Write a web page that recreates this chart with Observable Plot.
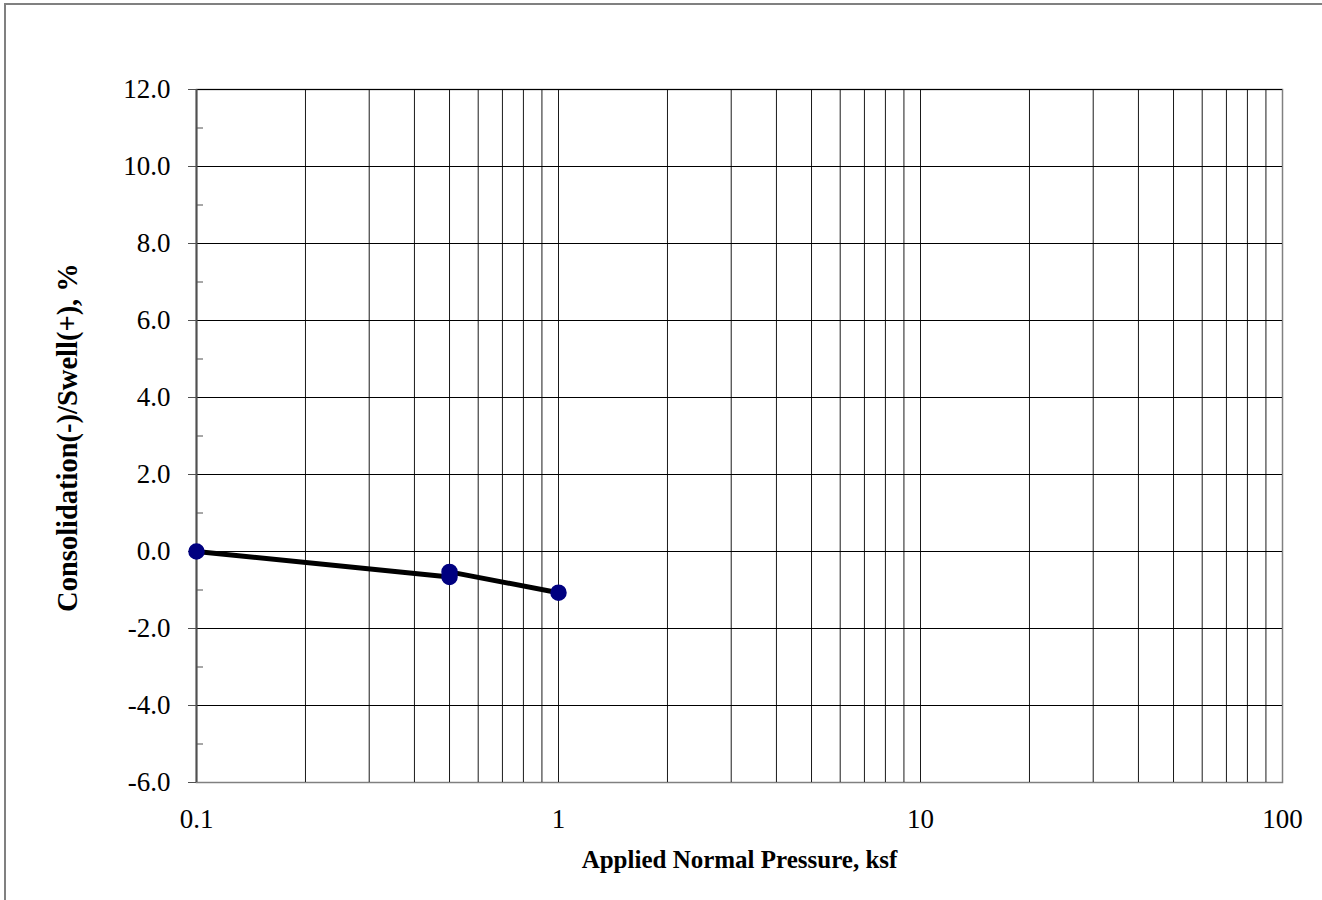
<!DOCTYPE html>
<html>
<head>
<meta charset="utf-8">
<script src="https://cdn.jsdelivr.net/npm/d3@7"></script>
<script src="https://cdn.jsdelivr.net/npm/@observablehq/plot@0.6"></script>
<style>
  html, body { margin: 0; padding: 0; background: #fff; }
  #wrap { position: relative; width: 1322px; height: 900px; overflow: hidden; }
  #border { position: absolute; left: 4px; top: 3px; width: 1340px; height: 920px;
            border-left: 2px solid #808080; border-top: 2px solid #808080; box-sizing: border-box; }
  #chart { position: absolute; left: 0; top: 0; }
  #chart svg, #chart svg text { font-family: "Liberation Serif", "Times New Roman", serif; }
  #chart svg g.ticklab text { font-size: 27px; }
  #chart svg g.title text { font-size: 25px; font-weight: bold; }
  #chart svg g.ytitle text { font-size: 28.5px; font-weight: bold; }
</style>
</head>
<body>
<div id="wrap">
  <div id="border"></div>
  <div id="chart"></div>
</div>
<script>
// Data
const pressure = [0.1, 0.5, 0.5, 1.0];
const strain   = [0.0, -0.66, -0.53, -1.07];

const xTickLabels = [0.1, 1, 10, 100];
const yTickLabels = [-6, -4, -2, 0, 2, 4, 6, 8, 10, 12];
const yMinorTicks = [-5, -3, -1, 1, 3, 5, 7, 9, 11];
const xGrid = [0.2,0.3,0.4,0.5,0.6,0.7,0.8,0.9,1,2,3,4,5,6,7,8,9,10,20,30,40,50,60,70,80,90];
const yGrid = [-4, -2, 0, 2, 4, 6, 8, 10, 12];

const xTitle = "Applied Normal Pressure, ksf";
const yTitle = "Consolidation(-)/Swell(+), %";

const data = pressure.map((p, i) => ({p, s: strain[i]}));

const chart = Plot.plot({
  width: 1322,
  height: 900,
  marginLeft: 196,
  marginRight: 40,
  marginTop: 89,
  marginBottom: 118,
  style: {fontFamily: "'Liberation Serif', 'Times New Roman', serif", background: "transparent", overflow: "visible"},
  x: {type: "log", domain: [0.1, 100]},
  y: {domain: [-6, 12]},
  marks: [
    Plot.frame({stroke: "#808080", strokeWidth: 1.5}),
    Plot.gridX(xGrid, {stroke: "#1a1a1a", strokeOpacity: 1, strokeWidth: 1}),
    Plot.gridY(yGrid, {stroke: "#000", strokeOpacity: 1, strokeWidth: 1}),
    Plot.ruleX([0.1], {stroke: "#505050", strokeWidth: 2}),
    Plot.axisY(yTickLabels, {
      tickSize: 8, tickPadding: 18, fontSize: 27, stroke: "#505050",
      tickFormat: d => d.toFixed(1), label: null, fill: "#000", className: "ticklab"
    }),
    Plot.axisY(yMinorTicks, {tickSize: 7, dx: 7, text: null, label: null, stroke: "#505050"}),
    Plot.axisX(xTickLabels, {
      tickSize: 0, tickPadding: 26, fontSize: 27, label: null,
      tickFormat: d => String(d), fill: "#000", className: "ticklab"
    }),
    Plot.text([xTitle], {frameAnchor: "bottom", dy: 85, fontSize: 25, fontWeight: "bold", fill: "#000", className: "title"}),
    Plot.text([yTitle], {frameAnchor: "left", textAnchor: "middle", dx: -129, dy: 1.5, rotate: -90, fontSize: 28.5, fontWeight: "bold", fill: "#000", className: "ytitle"}),
    Plot.line(data, {x: "p", y: "s", stroke: "#000", strokeWidth: 5}),
    Plot.dot(data, {x: "p", y: "s", r: 7.5, fill: "#000080", stroke: "#000080"})
  ]
});
document.getElementById("chart").appendChild(chart);
</script>
</body>
</html>
